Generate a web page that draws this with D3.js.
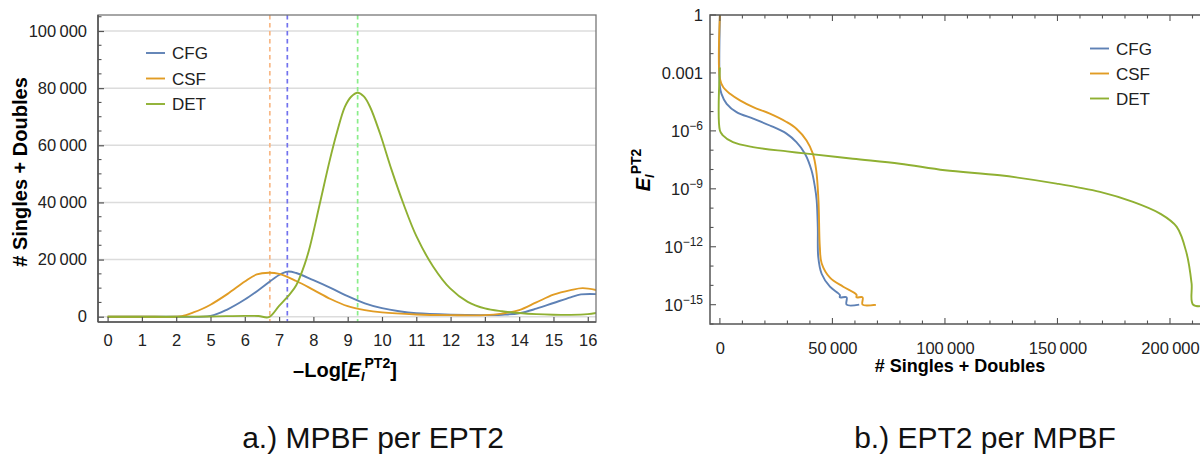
<!DOCTYPE html>
<html>
<head>
<meta charset="utf-8">
<script src="https://cdn.jsdelivr.net/npm/d3@7"></script>
<style>
  html, body { margin: 0; padding: 0; background: #fff; }
  svg { display: block; font-family: "Liberation Sans", Arial, Helvetica, sans-serif; }
</style>
</head>
<body>
<svg id="fig" width="1200" height="466"></svg>
<script>
// ---------- Panel a: number of singles + doubles per -Log[E_I^PT2] bin ----------
const seriesNames = ["CFG", "CSF", "DET"];
const xTickValuesA = [0, 1, 2, 5, 6, 7, 8, 9, 10, 11, 12, 13, 14, 15, 16];
const yTickValuesA = [0, 20000, 40000, 60000, 80000, 100000];

const cfgCountX = [0, 1, 2, 5, 5.5, 6, 6.5, 7, 7.25, 7.5, 8, 8.5, 9, 9.5, 10, 10.5, 11, 12, 13, 13.5, 14, 14.5, 15, 15.5, 15.8, 16.3];
const cfgCountY = [0, 0, 0, 300, 2600, 6000, 10200, 14600, 15800, 15300, 12800, 10100, 7200, 4700, 3000, 1900, 1200, 700, 550, 700, 1200, 2800, 4800, 6800, 7800, 7900];

const csfCountX = [0, 1, 2, 2.5, 3.5, 4.25, 5, 5.5, 6, 6.35, 6.7, 7, 7.5, 8, 8.5, 9, 9.5, 10, 11, 12, 13, 13.5, 14, 14.5, 15, 15.5, 15.85, 16.3];
const csfCountY = [0, 0, 0, 200, 1500, 2700, 4200, 8000, 12300, 14800, 15400, 15000, 12500, 9400, 6200, 3700, 2300, 1500, 800, 550, 550, 1100, 2300, 5000, 7700, 9300, 10000, 9200];

const detCountX = [0, 1, 2, 5, 6, 6.4, 6.7, 7, 7.32, 7.5, 7.75, 7.9, 8.19, 8.48, 8.68, 8.92, 9.1, 9.29, 9.47, 9.65, 9.94, 10.28, 10.62, 11.01, 11.49, 11.98, 12.5, 13, 13.5, 14, 14.5, 15, 15.5, 16, 16.3];
const detCountY = [0, 0, 0, 100, 300, 250, -150, 3800, 8000, 11000, 18500, 24600, 39700, 54900, 64200, 73500, 77000, 78400, 77100, 73500, 64200, 51400, 39700, 28000, 17600, 10000, 5200, 2900, 1900, 1300, 900, 700, 650, 900, 1400];

// position of each series' maximum
const peakX = [7.24, 6.73, 9.29];

// ---------- Panel b: E_I^PT2 for each configuration, sorted ----------
const yTickValuesB = [1, 1e-3, 1e-6, 1e-9, 1e-12, 1e-15];
const xTickValuesB = [0, 50000, 100000, 150000, 200000];

const cfgDecayX = [0, 0, 700, 3000, 7400, 14800, 22200, 29600, 34000, 37800, 40700, 42200, 43000, 43500, 43700, 45200, 48900, 53300, 53300, 56300, 56300, 61900];
const cfgDecayY = [1, 2e-4, 8.3e-5, 2.5e-5, 9.3e-6, 4.3e-6, 1.9e-6, 7.2e-7, 2.6e-7, 6.6e-8, 9.1e-9, 1.3e-9, 2.5e-10, 1e-11, 3e-13, 4e-14, 8.5e-15, 3.2e-15, 2.4e-15, 2.4e-15, 1e-15, 1e-15];

const csfDecayX = [0, 0, 1500, 4500, 8900, 14800, 22200, 29600, 34000, 38500, 41300, 42800, 43800, 44400, 45200, 48900, 54800, 60700, 60700, 63400, 63400, 69300];
const csfDecayY = [1, 5e-4, 1.8e-4, 8.3e-5, 3.8e-5, 1.7e-5, 7.8e-6, 2.9e-6, 1.3e-6, 3.2e-7, 6.6e-8, 9.1e-9, 2.5e-10, 1e-12, 1.4e-13, 2.5e-14, 8.5e-15, 3.3e-15, 2.4e-15, 2.4e-15, 1e-15, 1e-15];

const detDecayX = [0, 0, 1300, 5800, 14700, 29800, 38700, 59100, 80000, 100000, 124400, 149600, 168900, 183600, 195600, 203000, 207400, 209600, 210300, 218000];
const detDecayY = [1.9e-3, 1.05e-6, 5.9e-7, 2.6e-7, 1.45e-7, 8.7e-8, 6.6e-8, 3.6e-8, 2e-8, 9.1e-9, 5e-9, 1.86e-9, 6.9e-10, 2.1e-10, 5.2e-11, 1.07e-11, 4.5e-13, 1.26e-14, 1e-15, 1e-15];

// ---------- styling ----------
const lineColors = ["#5E81B5", "#E19C24", "#8FB032"];
const peakColors = ["#7272EE", "#F8B886", "#8AEE8A"];
const frameColor = "#555";
const tickText = "#222";
const thin = "\u2009";
const fmtThousands = v => d3.format(",")(v).replace(/,/g, thin);

const svg = d3.select("#fig");

// ======================= Panel a =======================
const A = { left: 98, right: 596, top: 15, bottom: 322 };
// the axis shows 0,1,2 then jumps to 5: one tick step covers 2 -> 5
const aDom = [-0.28, 2, 5, 16.24];
const aUnits = (aDom[1] - aDom[0]) + 1 + (aDom[3] - aDom[2]);
const aStep = (A.right - A.left) / aUnits;
const xA = d3.scaleLinear()
  .domain(aDom)
  .range([A.left, A.left + (aDom[1] - aDom[0]) * aStep, A.left + (aDom[1] - aDom[0] + 1) * aStep, A.right]);
const yA = d3.scaleLinear().domain([-1850, 105600]).range([A.bottom, A.top]);

const gA = svg.append("g");
gA.append("clipPath").attr("id", "clipA").append("rect")
  .attr("x", A.left).attr("y", A.top).attr("width", A.right - A.left).attr("height", A.bottom - A.top);

// gridlines
gA.append("g").selectAll("line").data(yTickValuesA).join("line")
  .attr("x1", A.left).attr("x2", A.right)
  .attr("y1", d => yA(d)).attr("y2", d => yA(d))
  .attr("stroke", "#dcdcdc").attr("stroke-width", 1.5);

// dashed markers at each series maximum
gA.append("g").selectAll("line").data(peakX).join("line")
  .attr("x1", d => xA(d)).attr("x2", d => xA(d))
  .attr("y1", A.top).attr("y2", A.bottom)
  .attr("stroke", (d, i) => peakColors[i]).attr("stroke-width", 1.7)
  .attr("stroke-dasharray", "4.5,3.5");

// curves
const countSeries = [
  d3.zip(cfgCountX, cfgCountY),
  d3.zip(csfCountX, csfCountY),
  d3.zip(detCountX, detCountY)
];
const lineA = d3.line().x(d => xA(d[0])).y(d => yA(d[1])).curve(d3.curveCatmullRom.alpha(0.5));
gA.append("g").attr("clip-path", "url(#clipA)").selectAll("path").data(countSeries).join("path")
  .attr("d", lineA).attr("fill", "none")
  .attr("stroke", (d, i) => lineColors[i]).attr("stroke-width", 1.9);

// frame
gA.append("rect").attr("x", A.left).attr("y", A.top)
  .attr("width", A.right - A.left).attr("height", A.bottom - A.top)
  .attr("fill", "none").attr("stroke", "#777").attr("stroke-width", 1.3);
gA.append("line").attr("x1", A.left).attr("x2", A.left).attr("y1", A.top).attr("y2", A.bottom)
  .attr("stroke", frameColor).attr("stroke-width", 1.6);
gA.append("line").attr("x1", A.left).attr("x2", A.right).attr("y1", A.bottom).attr("y2", A.bottom)
  .attr("stroke", frameColor).attr("stroke-width", 1.6);

// y axis (ticks inward)
const yAxisA = d3.axisLeft(yA).tickValues(yTickValuesA).tickFormat(fmtThousands).tickSize(-6).tickPadding(11);
const gyA = gA.append("g").attr("transform", `translate(${A.left},0)`).call(yAxisA);
gyA.select(".domain").remove();
gyA.selectAll(".tick line").attr("stroke", frameColor).attr("stroke-width", 1.2);
gyA.selectAll(".tick text").attr("fill", tickText).style("font-size", "16.5px");
const yMinorA = d3.range(0, 105001, 5000).filter(v => v % 20000 !== 0);
gA.append("g").selectAll("line").data(yMinorA).join("line")
  .attr("x1", A.left).attr("x2", A.left + 3.5)
  .attr("y1", d => yA(d)).attr("y2", d => yA(d))
  .attr("stroke", frameColor).attr("stroke-width", 1.1);

// x axis (ticks inward)
const xAxisA = d3.axisBottom(xA).tickValues(xTickValuesA).tickFormat(d => String(d)).tickSize(-5).tickPadding(12);
const gxA = gA.append("g").attr("transform", `translate(0,${A.bottom})`).call(xAxisA);
gxA.select(".domain").remove();
gxA.selectAll(".tick line").attr("stroke", frameColor).attr("stroke-width", 1.2);
gxA.selectAll(".tick text").attr("fill", tickText).style("font-size", "16.5px");

// axis labels
gA.append("text")
  .attr("transform", `translate(27,172) rotate(-90)`)
  .attr("text-anchor", "middle").style("font-size", "20px").style("font-weight", "bold")
  .text("# Singles + Doubles");
const xLabA = gA.append("text").attr("x", 345).attr("y", 377).attr("text-anchor", "middle")
  .style("font-size", "20px").style("font-weight", "bold");
xLabA.append("tspan").text("\u2013Log[");
xLabA.append("tspan").style("font-style", "italic").text("E");
xLabA.append("tspan").style("font-style", "italic").style("font-size", "13px").attr("dy", 4).text("I");
xLabA.append("tspan").style("font-size", "14px").attr("dy", -13).text("PT2");
xLabA.append("tspan").attr("dy", 9).text("]");

// legend
const legA = gA.append("g").selectAll("g").data(seriesNames).join("g")
  .attr("transform", (d, i) => `translate(146,${53 + i * 25.5})`);
legA.append("line").attr("x1", 0).attr("x2", 19).attr("stroke", (d, i) => lineColors[i]).attr("stroke-width", 1.9);
legA.append("text").attr("x", 26).attr("y", 6).style("font-size", "17px").attr("fill", "#222").text(d => d);

// ======================= Panel b =======================
const B = { left: 710, right: 1215, top: 15, bottom: 324 };
const xB = d3.scaleLinear().domain([-4400, 220000]).range([B.left, B.right]);
const yB = d3.scaleLog().domain([1e-16, 1]).range([B.bottom, B.top]);

const gB = svg.append("g");
gB.append("clipPath").attr("id", "clipB").append("rect")
  .attr("x", B.left).attr("y", B.top).attr("width", B.right - B.left).attr("height", B.bottom - B.top);

const decaySeries = [
  d3.zip(cfgDecayX, cfgDecayY),
  d3.zip(csfDecayX, csfDecayY),
  d3.zip(detDecayX, detDecayY)
];
const lineB = d3.line().x(d => xB(d[0])).y(d => yB(d[1])).curve(d3.curveCatmullRom.alpha(0.5));
gB.append("g").attr("clip-path", "url(#clipB)").selectAll("path").data(decaySeries).join("path")
  .attr("d", lineB).attr("fill", "none")
  .attr("stroke", (d, i) => lineColors[i]).attr("stroke-width", 1.9);

// frame
gB.append("rect").attr("x", B.left).attr("y", B.top)
  .attr("width", B.right - B.left).attr("height", B.bottom - B.top)
  .attr("fill", "none").attr("stroke", frameColor).attr("stroke-width", 1.5);

// x ticks: bottom and mirrored on top
const xMinorB = d3.range(0, 220001, 10000);
["bottom", "top"].forEach(side => {
  const y0 = side === "bottom" ? B.bottom : B.top;
  const dir = side === "bottom" ? -1 : 1;
  gB.append("g").selectAll("line").data(xMinorB).join("line")
    .attr("x1", d => xB(d)).attr("x2", d => xB(d))
    .attr("y1", y0).attr("y2", d => y0 + dir * (d % 50000 === 0 ? 6 : 3.5))
    .attr("stroke", frameColor).attr("stroke-width", 1.1);
});
const xAxisB = d3.axisBottom(xB).tickValues(xTickValuesB).tickFormat(fmtThousands).tickSize(0).tickPadding(18);
const gxB = gB.append("g").attr("transform", `translate(0,${B.bottom})`).call(xAxisB);
gxB.select(".domain").remove();
gxB.selectAll(".tick text").attr("fill", tickText).style("font-size", "16.5px");

// y ticks: decades, labelled every third
const yDecadesB = d3.range(0, 17).map(k => Math.pow(10, -k));
gB.append("g").selectAll("line").data(yDecadesB).join("line")
  .attr("x1", B.left).attr("x2", d => B.left + (yTickValuesB.includes(d) ? 6 : 3.5))
  .attr("y1", d => yB(d)).attr("y2", d => yB(d))
  .attr("stroke", frameColor).attr("stroke-width", 1.1);
const yLabB = gB.append("g").selectAll("text").data(yTickValuesB).join("text")
  .attr("x", B.left - 7).attr("y", d => yB(d) + 6)
  .attr("text-anchor", "end").attr("fill", tickText).style("font-size", "16.5px");
yLabB.each(function (d) {
  const t = d3.select(this);
  const e = Math.round(Math.log10(d));
  if (e >= -3) {
    t.text(e === 0 ? "1" : "0.001");
  } else {
    t.append("tspan").text("10");
    t.append("tspan").attr("dy", -7).style("font-size", "12px").text("\u2212" + (-e));
  }
});

// axis labels
gB.append("text").attr("x", 960).attr("y", 372).attr("text-anchor", "middle")
  .style("font-size", "18px").style("font-weight", "bold").text("# Singles + Doubles");
const yTitleB = gB.append("text")
  .attr("transform", `translate(650,170) rotate(-90)`)
  .attr("text-anchor", "middle").style("font-size", "20px").style("font-weight", "bold");
yTitleB.append("tspan").style("font-style", "italic").text("E");
yTitleB.append("tspan").style("font-style", "italic").style("font-size", "13px").attr("dy", 4).text("I");
yTitleB.append("tspan").style("font-size", "14px").attr("dy", -13).text("PT2");

// legend
const legB = gB.append("g").selectAll("g").data(seriesNames).join("g")
  .attr("transform", (d, i) => `translate(1090,${48.5 + i * 25})`);
legB.append("line").attr("x1", 0).attr("x2", 19).attr("stroke", (d, i) => lineColors[i]).attr("stroke-width", 1.9);
legB.append("text").attr("x", 26).attr("y", 6).style("font-size", "17px").attr("fill", "#222").text(d => d);

// ======================= captions =======================
svg.append("text").attr("x", 373).attr("y", 448).attr("text-anchor", "middle")
  .style("font-size", "30px").attr("fill", "#111").text("a.) MPBF per EPT2");
svg.append("text").attr("x", 985).attr("y", 448).attr("text-anchor", "middle")
  .style("font-size", "30px").attr("fill", "#111").text("b.) EPT2 per MPBF");
</script>
</body>
</html>
